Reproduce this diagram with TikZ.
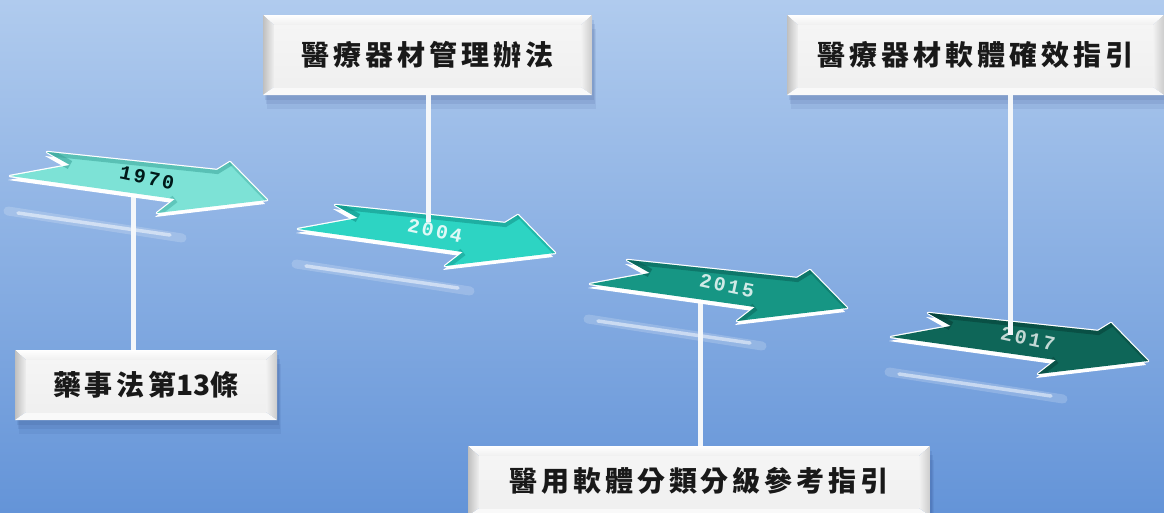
\documentclass[tikz,border=0pt]{standalone}
\usepackage{fontspec}
\newfontfamily\cjk{Noto Sans CJK TC}[LetterSpace=14]
\newfontfamily\yearfont{Liberation Mono}[LetterSpace=12]
\usetikzlibrary{calc,shadows}
\definecolor{bgtop}{RGB}{176,203,238}
\definecolor{bgbot}{RGB}{100,148,216}
\definecolor{shadowc}{RGB}{35,60,120}
\definecolor{arA}{RGB}{125,226,214}\definecolor{arAd}{RGB}{60,165,155}
\definecolor{arB}{RGB}{45,212,195}\definecolor{arBd}{RGB}{18,145,135}
\definecolor{arC}{RGB}{22,150,132}\definecolor{arCd}{RGB}{8,95,85}
\definecolor{arD}{RGB}{14,102,88}\definecolor{arDd}{RGB}{6,62,54}
\definecolor{linec}{RGB}{244,247,250}
\def\arrowpath{(47,152) -- (217,170) -- (230,162) -- (267,200) -- (157,213) -- (175,199) -- (10,176) -- (70,165) -- cycle}
\newcommand\tlarrow[6]{% dx, dy, fill, dark, name, year text colour
  \begin{scope}[shift={(#1,#2)}]
    \fill[white, shift={(-2,4)}] \arrowpath;
    \draw[white, line width=2.5pt, line join=round] \arrowpath;
    \fill[#3] \arrowpath;
    \begin{scope}
      \clip \arrowpath;
      \draw[#4, line width=8pt, opacity=0.55] (47,152) -- (217,170) -- (230,162);
      \draw[#4, line width=9pt, opacity=0.6] (70,165) -- (47,152);
      \draw[#4, line width=8pt, opacity=0.45] (175,199) -- (157,213);
      \draw[#4, line width=4pt, opacity=0.4] (230,162) -- (267,200);
    \end{scope}
    \node[yr, text=#6] (#5) at (147,178) {\bfseries\csname yr#5\endcsname};
  \end{scope}}
\def\yrya{1970}\def\yryb{2004}\def\yryc{2015}\def\yryd{2017}
\begin{document}
\begin{tikzpicture}[x=1pt,y=-1pt,
  conn/.style={draw=linec, line width=5pt},
  yr/.style={font=\yearfont\fontsize{20}{20}\selectfont, rotate=-12, inner sep=0pt},
  plate/.style={inner sep=0pt, font=\cjk\bfseries\fontsize{28}{30}\selectfont, text=black!90,
    general shadow={fill=shadowc, opacity=0.10, shadow xshift=2pt, shadow yshift=-5pt},
    general shadow={fill=shadowc, opacity=0.10, shadow xshift=3pt, shadow yshift=-9pt},
    general shadow={fill=shadowc, opacity=0.08, shadow xshift=4pt, shadow yshift=-14pt},
    path picture={
      \coordinate (NW) at (path picture bounding box.north west);
      \coordinate (NE) at (path picture bounding box.north east);
      \coordinate (SW) at (path picture bounding box.south west);
      \coordinate (SE) at (path picture bounding box.south east);
      \coordinate (nw) at ([xshift=11pt,yshift=-10pt]NW);
      \coordinate (ne) at ([xshift=-11pt,yshift=-10pt]NE);
      \coordinate (sw) at ([xshift=11pt,yshift=8pt]SW);
      \coordinate (se) at ([xshift=-11pt,yshift=8pt]SE);
      \shade[top color=white, bottom color=gray!12] (NW) -- (NE) -- (ne) -- (nw) -- cycle;
      \shade[left color=gray!50, right color=gray!12] (NW) -- (nw) -- (sw) -- (SW) -- cycle;
      \shade[left color=gray!10, right color=gray!40] (NE) -- (SE) -- (se) -- (ne) -- cycle;
      \fill[gray!5] (SW) -- (sw) -- (se) -- (SE) -- cycle;
      \shade[top color=gray!8, middle color=gray!38, bottom color=gray!12] (nw) rectangle (se);
    }}]
\useasboundingbox (0,0) rectangle (1164,512);
\shade[top color=bgtop, bottom color=bgbot] (0,0) rectangle (1164,512);
% light streaks under the arrows
\foreach \dx/\dy in {0/0,288/53,580/108,881/161}{
  \draw[white, opacity=0.18, line width=9pt, line cap=round, shift={(\dx,\dy)}] (8,211) -- (182,238);
  \draw[white, opacity=0.5, line width=3.5pt, line cap=round, shift={(\dx,\dy)}] (18,213) -- (170,235);
}
% labels
\node[plate, minimum width=329pt, minimum height=80pt] (b1) at (427.5,55) {醫療器材管理辦法};
\node[plate, minimum width=377pt, minimum height=80pt] (b2) at (975.5,55) {醫療器材軟體確效指引};
\node[plate, minimum width=262pt, minimum height=70pt] (b3) at (146,385) {藥事法第{\addfontfeature{LetterSpace=0}13}條};
\node[plate, minimum width=462pt, minimum height=70pt] (b4) at (699,481) {醫用軟體分類分級參考指引};
% anchor points on the arrows
\coordinate (a1) at (133,193);
\coordinate (a2) at (428,222);
\coordinate (a3) at (700,299);
\coordinate (a4) at (1010,335);
\draw[conn] (a1) -- (b3.north -| a1);
\draw[conn] (a3) -- (b4.north -| a3);
% arrows
\tlarrow{0}{0}{arA}{arAd}{ya}{black!80!teal}
\tlarrow{288}{53}{arB}{arBd}{yb}{white!85!arB}
\tlarrow{580}{108}{arC}{arCd}{yc}{white!80!arC}
\tlarrow{881}{161}{arD}{arDd}{yd}{white!75!arD}
\draw[conn] (b1.south -| a2) -- (a2);
\draw[conn] (b2.south -| a4) -- (a4);
\end{tikzpicture}
\end{document}
